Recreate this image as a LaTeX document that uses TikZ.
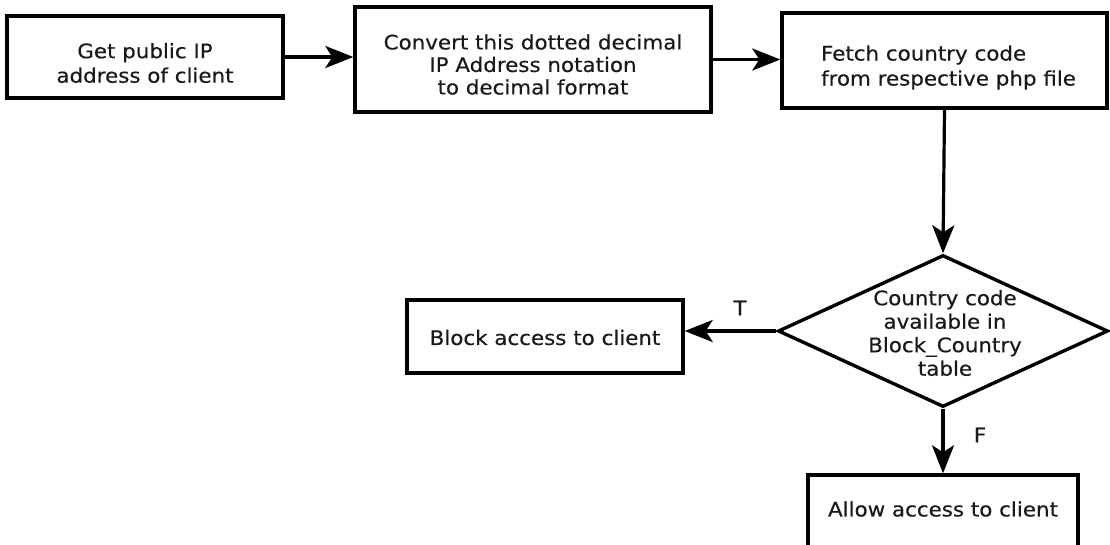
\documentclass[tikz,border=0pt]{standalone}
\usepackage{fontspec}
\setmainfont{DejaVu Sans}[FakeStretch=1.07,FakeBold=0.4]
\usetikzlibrary{shapes.geometric,arrows.meta}
\begin{document}
\begin{tikzpicture}[x=1pt,y=-1pt,
  txt/.style={text=black!90, align=center, font=\fontsize{20}{23.5}\selectfont},
  box/.style={draw, line width=3.4pt, inner sep=0pt},
  arr/.style={line width=3.2pt, -{Stealth[length=28pt,width=22pt,inset=7pt]}}]
\useasboundingbox (0,0) rectangle (1110,544);
\clip (0,0) rectangle (1110,544);
\node[box, minimum width=276pt, minimum height=82pt] (b1) at (145,57) {};
\node[txt, font=\fontsize{20}{24.5}\selectfont] (b1t) at ([yshift=-6pt]b1.center) {Get public IP\\address of client};
\node[box, minimum width=356pt, minimum height=105pt] (b2) at (533,59.5) {};
\node[txt, font=\fontsize{20}{22.5}\selectfont] (b2t) at ([yshift=-5pt]b2.center) {Convert this dotted decimal\\IP Address notation\\to decimal format};
\node[box, minimum width=325pt, minimum height=95pt] (b3) at (944.5,60.5) {};
\node[txt, align=left, font=\fontsize{20}{25}\selectfont] (b3t) at ([xshift=4pt,yshift=-7pt]b3.center) {Fetch country code\\from respective php file};
\node[draw, diamond, line width=3.4pt, minimum width=330pt, minimum height=152pt, inner sep=0pt] (dec) at (943,331) {};
\node[txt] (dect) at (945,333) {Country code\\available in\\Block\_Country\\table};
\node[box, minimum width=276pt, minimum height=73pt] (blk) at (545,336.5) {};
\node[txt] (blkt) at ([yshift=-1pt]blk.center) {Block access to client};
\node[box, minimum width=270pt, minimum height=80pt] (al) at (943,515) {};
\node[txt] (alt) at (943,509) {Allow access to client};
\node[txt] (t) at (740,308) {T};
\node[txt] (f) at (980,435) {F};
\draw[arr] (b1.east) -- (b1.east -| b2.west);
\draw[arr] (b2.east) -- (b2.east -| b3.west);
\draw[arr] (b3.south) -- (dec.north);
\draw[arr] (dec.west) -- (dec.west -| blk.east);
\draw[arr] (dec.south) -- (dec.south |- al.north);
\end{tikzpicture}
\end{document}
